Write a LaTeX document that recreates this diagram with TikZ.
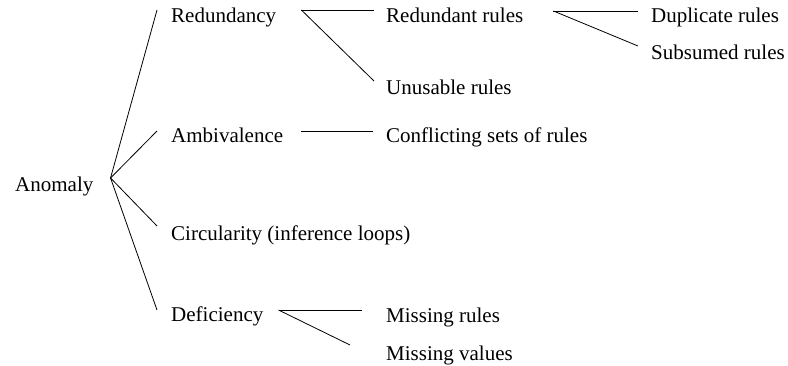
\documentclass[tikz,border=0pt]{standalone}
\usepackage{fontspec}
\setmainfont{Liberation Serif}
\begin{document}
\begin{tikzpicture}[x=1pt,y=-1pt,
  lbl/.style={anchor=base west,inner sep=0pt,font=\fontsize{21}{25}\selectfont},
  conn/.style={line width=0.8pt}]
\useasboundingbox (0,0) rectangle (788,366);
\node[lbl] (anom) at (15,192) {Anomaly};
\node[lbl] (red) at (171,23) {Redundancy};
\node[lbl] (amb) at (171,143) {Ambivalence};
\node[lbl] (circ) at (171,241) {Circularity (inference loops)};
\node[lbl] (def) at (171,322) {Deficiency};
\node[lbl] (rr) at (386,23) {Redundant rules};
\node[lbl] (un) at (386,95) {Unusable rules};
\node[lbl] (conf) at (386,143) {Conflicting sets of rules};
\node[lbl] (dup) at (651,23) {Duplicate rules};
\node[lbl] (sub) at (651,60) {Subsumed rules};
\node[lbl] (mr) at (386,323) {Missing rules};
\node[lbl] (mv) at (386,360) {Missing values};
% Anomaly branches
\draw[conn] ([shift={(17pt,14pt)}]anom.base east) -- ([shift={(-14pt,13pt)}]red.base west);
\draw[conn] ([shift={(17pt,14pt)}]anom.base east) -- ([shift={(-14pt,12pt)}]amb.base west);
\draw[conn] ([shift={(17pt,14pt)}]anom.base east) -- ([shift={(-14pt,15pt)}]circ.base west);
\draw[conn] ([shift={(17pt,14pt)}]anom.base east) -- ([shift={(-14pt,12pt)}]def.base west);
% Redundancy
\draw[conn] ([shift={(25pt,13pt)}]red.base east) -- ([shift={(-12pt,13pt)}]rr.base west);
\draw[conn] ([shift={(25pt,13pt)}]red.base east) -- ([shift={(-12pt,14pt)}]un.base west);
% Ambivalence
\draw[conn] ([shift={(18pt,12pt)}]amb.base east) -- ([shift={(-13pt,12pt)}]conf.base west);
% Redundant rules
\draw[conn] ([shift={(30pt,12pt)}]rr.base east) -- ([shift={(-13pt,12pt)}]dup.base west);
\draw[conn] ([shift={(30pt,12pt)}]rr.base east) -- ([shift={(-13pt,14pt)}]sub.base west);
% Deficiency
\draw[conn] ([shift={(15pt,12pt)}]def.base east) -- ([shift={(-24pt,13pt)}]mr.base west);
\draw[conn] ([shift={(15pt,12pt)}]def.base east) -- ([shift={(-36pt,15pt)}]mv.base west);
\end{tikzpicture}
\end{document}
